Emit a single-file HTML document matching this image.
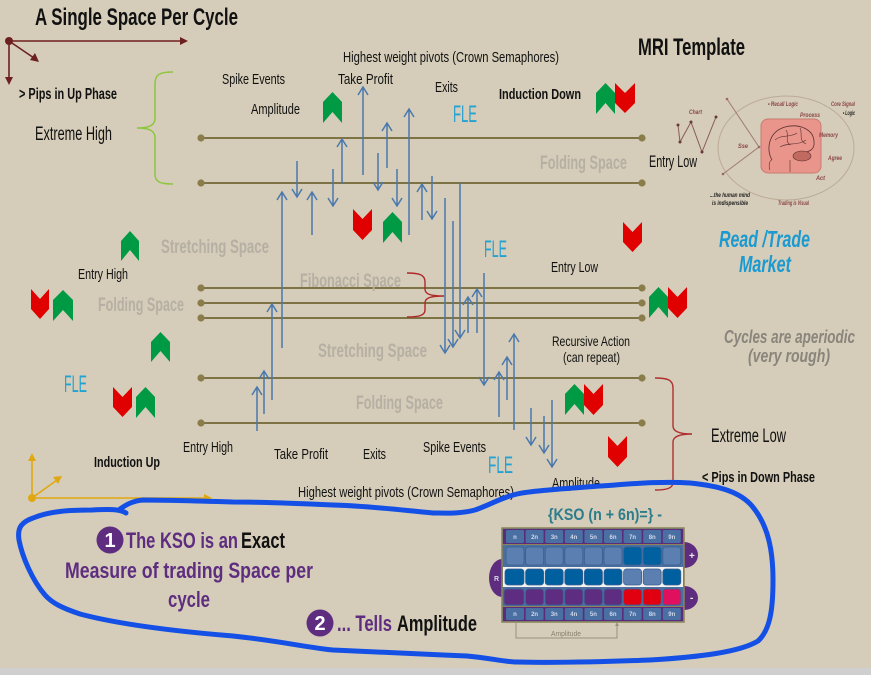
<!DOCTYPE html>
<html><head><meta charset="utf-8">
<style>
html,body{margin:0;padding:0;background:#d5cdb9;}
svg{display:block;}
text{font-family:"Liberation Sans Narrow","Liberation Sans",sans-serif;}
</style></head>
<body>
<svg width="871" height="675" viewBox="0 0 871 675" xmlns="http://www.w3.org/2000/svg">
<rect x="0" y="0" width="871" height="675" fill="#d5cdb9"/>
<rect x="0" y="668" width="871" height="7" fill="#cfcfcf"/>

<!-- Title & top-left axes -->
<text x="35" y="25" font-size="24" font-weight="bold" fill="#111" textLength="203" lengthAdjust="spacingAndGlyphs">A Single Space Per Cycle</text>
<g stroke="#6e2020" stroke-width="1.6" fill="#6e2020">
<line x1="9" y1="41" x2="181" y2="41"/>
<polygon points="188,41 180,37 180,45" stroke="none"/>
<line x1="9" y1="41" x2="34" y2="58"/>
<polygon points="39,62 30,60 35,53" stroke="none"/>
<line x1="9" y1="41" x2="9" y2="78"/>
<polygon points="9,85 5,77 13,77" stroke="none"/>
<circle cx="9" cy="41" r="4" stroke="none"/>
</g>
<text x="19" y="99" font-size="16" font-weight="bold" fill="#111" textLength="98" lengthAdjust="spacingAndGlyphs">&gt; Pips in Up Phase</text>
<text x="35" y="140" font-size="19" fill="#111" textLength="77" lengthAdjust="spacingAndGlyphs">Extreme High</text>

<!-- Green brace -->
<path d="M173 72 C160 72 155 74 155 84 L155 118 C155 125 150 128 137 128 C150 128 155 131 155 138 L155 174 C155 182 160 184 173 184" fill="none" stroke="#8cc63f" stroke-width="1.5"/>

<!-- Horizontal lines -->
<g stroke="#7e7345" stroke-width="2">
<line x1="201" y1="138" x2="642" y2="138"/>
<line x1="201" y1="183" x2="642" y2="183"/>
<line x1="201" y1="288" x2="642" y2="288"/>
<line x1="201" y1="303" x2="642" y2="303"/>
<line x1="201" y1="318" x2="642" y2="318"/>
<line x1="201" y1="378" x2="642" y2="378"/>
<line x1="201" y1="423" x2="642" y2="423"/>
</g>
<g fill="#8a7d4b">
<circle cx="201" cy="138" r="3.6"/><circle cx="642" cy="138" r="3.6"/>
<circle cx="201" cy="183" r="3.6"/><circle cx="642" cy="183" r="3.6"/>
<circle cx="201" cy="288" r="3.6"/><circle cx="642" cy="288" r="3.6"/>
<circle cx="201" cy="303" r="3.6"/><circle cx="642" cy="303" r="3.6"/>
<circle cx="201" cy="318" r="3.6"/><circle cx="642" cy="318" r="3.6"/>
<circle cx="201" cy="378" r="3.6"/><circle cx="642" cy="378" r="3.6"/>
<circle cx="201" cy="423" r="3.6"/><circle cx="642" cy="423" r="3.6"/>
</g>

<!-- Grey space labels -->
<g font-size="19" font-weight="bold" fill="#b6afa3">
<text x="540" y="169" textLength="87" lengthAdjust="spacingAndGlyphs">Folding Space</text>
<text x="161" y="253" textLength="108" lengthAdjust="spacingAndGlyphs">Stretching Space</text>
<text x="98" y="311" textLength="86" lengthAdjust="spacingAndGlyphs">Folding Space</text>
<text x="300" y="287" textLength="101" lengthAdjust="spacingAndGlyphs">Fibonacci Space</text>
<text x="318" y="357" textLength="109" lengthAdjust="spacingAndGlyphs">Stretching Space</text>
<text x="356" y="409" textLength="87" lengthAdjust="spacingAndGlyphs">Folding Space</text>
</g>

<!-- Red braces -->
<path d="M407 273 C420 273 425 275 425 282 L425 289 C425 294 430 296 444 296 C430 296 425 298 425 303 L425 310 C425 315 420 317 407 317" fill="none" stroke="#b02828" stroke-width="1.4"/>
<path d="M655 378 C668 378 673 380 673 388 L673 426 C673 431 678 434 692 434 C678 434 673 437 673 442 L673 482 C673 488 668 490 655 490" fill="none" stroke="#b03030" stroke-width="1.4"/>

<!-- Arrows -->
<g stroke="#4a78ad" stroke-width="1.5" fill="none">
<path d="M363 175V87M358 95L363 87L368 95"/>
<path d="M297 161V197M292 189L297 197L302 189"/>
<path d="M282 348V192M277 200L282 192L287 200"/>
<path d="M312 235V192M307 200L312 192L317 200"/>
<path d="M333 169V206M328 198L333 206L338 198"/>
<path d="M342 184V139M337 147L342 139L347 147"/>
<path d="M378 153V190M373 182L378 190L383 182"/>
<path d="M387 168V123M382 131L387 123L392 131"/>
<path d="M397 169V206M392 198L397 206L402 198"/>
<path d="M409 235V109M404 117L409 109L414 117"/>
<path d="M422 220V184M417 192L422 184L427 192"/>
<path d="M432 176V219M427 211L432 219L437 211"/>
<path d="M445 198V353M440 345L445 353L450 345"/>
<path d="M453 221V347M448 339L453 347L458 339"/>
<path d="M460 183V338M455 330L460 338L465 330"/>
<path d="M468 333V297M463 305L468 297L473 305"/>
<path d="M477 333V289M472 297L477 289L482 297"/>
<path d="M484 273V385M479 377L484 385L489 377"/>
<path d="M499 417V372M494 380L499 372L504 380"/>
<path d="M507 400V357M502 365L507 357L512 365"/>
<path d="M514 430V334M509 342L514 334L519 342"/>
<path d="M531 408V445M526 437L531 445L536 437"/>
<path d="M544 416V453M539 445L544 453L549 445"/>
<path d="M552 400V467M547 459L552 467L557 459"/>
<path d="M272 400V304M267 312L272 304L277 312"/>
<path d="M264 414V371M259 379L264 371L269 379"/>
<path d="M257 431V387M252 395L257 387L262 395"/>
</g>

<!-- Chevrons: green up -->
<g fill="#009a44">
<path d="M323 102L332.5 92L342 102L342 123L332.5 112L323 123Z"/>
<path d="M383 222L392.5 212L402 222L402 243L392.5 232L383 243Z"/>
<path d="M121 241L130 231L139 241L139 261L130 250L121 261Z"/>
<path d="M53 300L63 290L73 300L73 321L63 310L53 321Z"/>
<path d="M151 342L160.5 332L170 342L170 362L160.5 351L151 362Z"/>
<path d="M136 397L145.5 387L155 397L155 418L145.5 407L136 418Z"/>
<path d="M596 93L605.5 83L615 93L615 114L605.5 103L596 114Z"/>
<path d="M649 297L658.5 287L668 297L668 318L658.5 307L649 318Z"/>
<path d="M565 394L574.5 384L584 394L584 415L574.5 404L565 415Z"/>
</g>
<!-- Chevrons: red down -->
<g fill="#e00000">
<path d="M353 209L362.5 219L372 209L372 230L362.5 240L353 230Z"/>
<path d="M31 289L40 299L49 289L49 309L40 319L31 309Z"/>
<path d="M113 387L122.5 397L132 387L132 407L122.5 417L113 407Z"/>
<path d="M615 83L625 93L635 83L635 103L625 113L615 103Z"/>
<path d="M623 222L632.5 232L642 222L642 242L632.5 252L623 242Z"/>
<path d="M668 287L677.5 297L687 287L687 308L677.5 318L668 308Z"/>
<path d="M584 384L593.5 394L603 384L603 405L593.5 415L584 405Z"/>
<path d="M608 436L617.5 446L627 436L627 457L617.5 467L608 457Z"/>
</g>

<!-- Black labels -->
<g font-size="15" fill="#111">
<text x="222" y="84" textLength="63" lengthAdjust="spacingAndGlyphs">Spike Events</text>
<text x="251" y="114" textLength="49" lengthAdjust="spacingAndGlyphs">Amplitude</text>
<text x="338" y="84" textLength="55" lengthAdjust="spacingAndGlyphs">Take Profit</text>
<text x="343" y="62" textLength="216" lengthAdjust="spacingAndGlyphs">Highest weight pivots (Crown Semaphores)</text>
<text x="435" y="92" textLength="23" lengthAdjust="spacingAndGlyphs">Exits</text>
<text x="551" y="272" textLength="47" lengthAdjust="spacingAndGlyphs">Entry Low</text>
<text x="78" y="279" textLength="50" lengthAdjust="spacingAndGlyphs">Entry High</text>
<text x="552" y="346" font-size="14" textLength="78" lengthAdjust="spacingAndGlyphs">Recursive Action</text>
<text x="563" y="362" font-size="14" textLength="57" lengthAdjust="spacingAndGlyphs">(can repeat)</text>
<text x="183" y="452" textLength="50" lengthAdjust="spacingAndGlyphs">Entry High</text>
<text x="274" y="459" textLength="54" lengthAdjust="spacingAndGlyphs">Take Profit</text>
<text x="363" y="459" textLength="23" lengthAdjust="spacingAndGlyphs">Exits</text>
<text x="423" y="452" textLength="63" lengthAdjust="spacingAndGlyphs">Spike Events</text>
<text x="552" y="488" textLength="48" lengthAdjust="spacingAndGlyphs">Amplitude</text>
<text x="298" y="497" textLength="216" lengthAdjust="spacingAndGlyphs">Highest weight pivots (Crown Semaphores)</text>
</g>
<text x="649" y="167" font-size="17" fill="#111" textLength="48" lengthAdjust="spacingAndGlyphs">Entry Low</text>
<text x="711" y="442" font-size="19" fill="#111" textLength="75" lengthAdjust="spacingAndGlyphs">Extreme Low</text>
<text x="638" y="55" font-size="24" font-weight="bold" fill="#111" textLength="107" lengthAdjust="spacingAndGlyphs">MRI Template</text>
<text x="499" y="99" font-size="15" font-weight="bold" fill="#111" textLength="82" lengthAdjust="spacingAndGlyphs">Induction Down</text>
<text x="94" y="467" font-size="15" font-weight="bold" fill="#111" textLength="66" lengthAdjust="spacingAndGlyphs">Induction Up</text>
<text x="702" y="482" font-size="15" font-weight="bold" fill="#111" textLength="113" lengthAdjust="spacingAndGlyphs">&lt; Pips in Down Phase</text>

<!-- FLE labels -->
<g font-size="24" fill="#22a2d2">
<text x="453" y="122" textLength="24" lengthAdjust="spacingAndGlyphs">FLE</text>
<text x="484" y="257" textLength="23" lengthAdjust="spacingAndGlyphs">FLE</text>
<text x="64" y="392" textLength="23" lengthAdjust="spacingAndGlyphs">FLE</text>
<text x="488" y="473" textLength="25" lengthAdjust="spacingAndGlyphs">FLE</text>
</g>

<!-- Read/Trade & cycles -->
<text x="719" y="247" font-size="23" font-weight="bold" font-style="italic" fill="#1a9ad0" textLength="91" lengthAdjust="spacingAndGlyphs">Read /Trade</text>
<text x="739" y="272" font-size="23" font-weight="bold" font-style="italic" fill="#1a9ad0" textLength="52" lengthAdjust="spacingAndGlyphs">Market</text>
<text x="724" y="343" font-size="18" font-weight="bold" font-style="italic" fill="#8a857c" textLength="131" lengthAdjust="spacingAndGlyphs">Cycles are aperiodic</text>
<text x="748" y="362" font-size="18" font-weight="bold" font-style="italic" fill="#8a857c" textLength="82" lengthAdjust="spacingAndGlyphs">(very rough)</text>

<!-- MRI graphic -->
<ellipse cx="786" cy="148" rx="68" ry="52" fill="none" stroke="#bcaa96" stroke-width="1"/>
<polyline points="678,125 680,142 691,122 702,152 716,117" fill="none" stroke="#8a5a5a" stroke-width="1"/>
<g fill="#6a3a3a"><circle cx="678" cy="125" r="1.5"/><circle cx="680" cy="142" r="1.5"/><circle cx="691" cy="122" r="1.5"/><circle cx="702" cy="152" r="1.5"/><circle cx="716" cy="117" r="1.5"/></g>
<polyline points="727,99 759,147 723,174" fill="none" stroke="#a07a70" stroke-width="1"/>
<g fill="#9a6a60"><circle cx="727" cy="99" r="1.3"/><circle cx="759" cy="147" r="1.3"/><circle cx="723" cy="174" r="1.3"/></g>
<rect x="761" y="119" width="60" height="54" rx="7" fill="#e9958b" stroke="#c87a70" stroke-width="1"/>
<path d="M772 160 C766 150 768 132 785 127 C800 123 814 130 814 142 C815 150 808 153 800 152" fill="none" stroke="#5a3030" stroke-width="0.8"/>
<path d="M775 140 C782 134 790 138 797 133 M780 147 C788 142 798 146 806 140 M786 130 C790 136 784 140 790 145 M800 128 C803 134 798 140 806 144" fill="none" stroke="#5a3030" stroke-width="0.6"/>
<ellipse cx="802" cy="156" rx="9" ry="5" fill="#c06a60" stroke="#5a3030" stroke-width="0.6"/>
<path d="M790 172 L790 160 M770 170 C768 165 770 160 772 160" fill="none" stroke="#5a3030" stroke-width="0.6"/>
<g font-size="6" font-weight="bold" font-style="italic" fill="#8b4545">
<text x="689" y="114" textLength="13" lengthAdjust="spacingAndGlyphs">Chart</text>
<text x="738" y="148" textLength="10" lengthAdjust="spacingAndGlyphs">Sse</text>
<text x="768" y="106" textLength="30" lengthAdjust="spacingAndGlyphs">• Recall Logic</text>
<text x="800" y="117" textLength="20" lengthAdjust="spacingAndGlyphs">Process</text>
<text x="831" y="106" textLength="24" lengthAdjust="spacingAndGlyphs">Core Signal</text>
<text x="819" y="137" textLength="19" lengthAdjust="spacingAndGlyphs">Memory</text>
<text x="828" y="160" textLength="14" lengthAdjust="spacingAndGlyphs">Agree</text>
<text x="816" y="180" textLength="9" lengthAdjust="spacingAndGlyphs">Act</text>
<text x="778" y="205" textLength="31" lengthAdjust="spacingAndGlyphs">Trading is Visual</text>
</g>
<g font-size="6" font-weight="bold" font-style="italic" fill="#222">
<text x="843" y="115" textLength="12" lengthAdjust="spacingAndGlyphs">• Logic</text>
<text x="710" y="197" textLength="40" lengthAdjust="spacingAndGlyphs">...the human mind</text>
<text x="712" y="205" textLength="36" lengthAdjust="spacingAndGlyphs">is indispensible</text>
</g>

<!-- Gold axes bottom-left -->
<g stroke="#e0a810" stroke-width="1.6" fill="#e0a810">
<line x1="32" y1="498" x2="205" y2="498"/>
<polygon points="212,498 204,494 204,502" stroke="none"/>
<line x1="32" y1="498" x2="57" y2="480"/>
<polygon points="62,476 53,477 58,484" stroke="none"/>
<line x1="32" y1="498" x2="32" y2="460"/>
<polygon points="32,453 28,461 36,461" stroke="none"/>
<circle cx="32" cy="498" r="4" stroke="none"/>
</g>

<!-- KSO texts -->
<circle cx="110" cy="540" r="13.5" fill="#5e2d80"/>
<text x="110" y="547" font-size="20" font-weight="bold" fill="#fff" text-anchor="middle">1</text>
<text x="126" y="548" font-size="22" font-weight="bold" fill="#5e2d80" textLength="112" lengthAdjust="spacingAndGlyphs">The KSO is an</text>
<text x="241" y="548" font-size="22" font-weight="bold" fill="#111" textLength="44" lengthAdjust="spacingAndGlyphs">Exact</text>
<text x="65" y="578" font-size="22" font-weight="bold" fill="#5e2d80" textLength="248" lengthAdjust="spacingAndGlyphs">Measure of  trading Space per</text>
<text x="168" y="607" font-size="22" font-weight="bold" fill="#5e2d80" textLength="42" lengthAdjust="spacingAndGlyphs">cycle</text>
<circle cx="320" cy="623" r="13.5" fill="#5e2d80"/>
<text x="320" y="630" font-size="20" font-weight="bold" fill="#fff" text-anchor="middle">2</text>
<text x="337" y="631" font-size="22" font-weight="bold" fill="#5e2d80" textLength="55" lengthAdjust="spacingAndGlyphs">... Tells</text>
<text x="397" y="631" font-size="22" font-weight="bold" fill="#111" textLength="80" lengthAdjust="spacingAndGlyphs">Amplitude</text>

<!-- KSO widget -->
<text x="548" y="520" font-size="17" font-weight="bold" fill="#2d7c8c" textLength="114" lengthAdjust="spacingAndGlyphs">{KSO (n + 6n)=} -</text>
<ellipse cx="502" cy="578" rx="13" ry="19" fill="#5e2d80"/>
<text x="494" y="581" font-size="7" font-weight="bold" fill="#d8d8e8">R</text>
<ellipse cx="684" cy="555" rx="14" ry="13" fill="#5e2d80"/>
<text x="689" y="559" font-size="10" font-weight="bold" fill="#eee">+</text>
<ellipse cx="684" cy="598" rx="14" ry="12" fill="#5e2d80"/>
<text x="690" y="601" font-size="10" font-weight="bold" fill="#eee">-</text>
<rect x="502" y="528" width="182" height="94" fill="#4a6fa0" stroke="#8c8358" stroke-width="1.5"/>
<rect x="503" y="529" width="180" height="15" fill="#5c2c7c"/>
<rect x="503" y="607" width="180" height="14" fill="#5c2c7c"/>
<rect x="503" y="567" width="180" height="20" fill="#f2f2f2"/>
<g stroke="#8c8358" stroke-width="1">
<line x1="502" y1="544.5" x2="684" y2="544.5"/>
<line x1="502" y1="606.5" x2="684" y2="606.5"/>
</g>
<g fill="#4a6fa3">
<rect x="506" y="530" width="18" height="13" rx="1.5"/><rect x="525.6" y="530" width="18" height="13" rx="1.5"/><rect x="545.2" y="530" width="18" height="13" rx="1.5"/><rect x="564.8" y="530" width="18" height="13" rx="1.5"/><rect x="584.4" y="530" width="18" height="13" rx="1.5"/><rect x="604" y="530" width="18" height="13" rx="1.5"/><rect x="623.6" y="530" width="18" height="13" rx="1.5"/><rect x="643.2" y="530" width="18" height="13" rx="1.5"/><rect x="662.8" y="530" width="18" height="13" rx="1.5"/>
<rect x="506" y="608" width="18" height="12" rx="1.5"/><rect x="525.6" y="608" width="18" height="12" rx="1.5"/><rect x="545.2" y="608" width="18" height="12" rx="1.5"/><rect x="564.8" y="608" width="18" height="12" rx="1.5"/><rect x="584.4" y="608" width="18" height="12" rx="1.5"/><rect x="604" y="608" width="18" height="12" rx="1.5"/><rect x="623.6" y="608" width="18" height="12" rx="1.5"/><rect x="643.2" y="608" width="18" height="12" rx="1.5"/><rect x="662.8" y="608" width="18" height="12" rx="1.5"/>
</g>
<g font-size="6" font-weight="bold" fill="#d0d8e8" text-anchor="middle">
<text x="515" y="539">n</text><text x="534.6" y="539">2n</text><text x="554.2" y="539">3n</text><text x="573.8" y="539">4n</text><text x="593.4" y="539">5n</text><text x="613" y="539">6n</text><text x="632.6" y="539">7n</text><text x="652.2" y="539">8n</text><text x="671.8" y="539">9n</text>
<text x="515" y="616">n</text><text x="534.6" y="616">2n</text><text x="554.2" y="616">3n</text><text x="573.8" y="616">4n</text><text x="593.4" y="616">5n</text><text x="613" y="616">6n</text><text x="632.6" y="616">7n</text><text x="652.2" y="616">8n</text><text x="671.8" y="616">9n</text>
</g>
<!-- row 2 -->
<g stroke="#3d5f90" stroke-width="0.8">
<rect x="506" y="547" width="18" height="18" rx="3" fill="#5a7fb0"/><rect x="525.6" y="547" width="18" height="18" rx="3" fill="#5a7fb0"/><rect x="545.2" y="547" width="18" height="18" rx="3" fill="#5a7fb0"/><rect x="564.8" y="547" width="18" height="18" rx="3" fill="#5a7fb0"/><rect x="584.4" y="547" width="18" height="18" rx="3" fill="#5a7fb0"/><rect x="604" y="547" width="18" height="18" rx="3" fill="#5a7fb0"/><rect x="623.6" y="547" width="18" height="18" rx="3" fill="#0060a0"/><rect x="643.2" y="547" width="18" height="18" rx="3" fill="#0060a0"/><rect x="662.8" y="547" width="18" height="18" rx="3" fill="#5a7fb0"/>
</g>
<!-- row 3 -->
<g stroke="#3d5f90" stroke-width="0.8">
<rect x="505" y="569" width="19" height="16" rx="3" fill="#005f9f"/><rect x="525.6" y="569" width="18" height="16" rx="3" fill="#005f9f"/><rect x="545.2" y="569" width="18" height="16" rx="3" fill="#005f9f"/><rect x="564.8" y="569" width="18" height="16" rx="3" fill="#005f9f"/><rect x="584.4" y="569" width="18" height="16" rx="3" fill="#005f9f"/><rect x="604" y="569" width="18" height="16" rx="3" fill="#005f9f"/><rect x="623.6" y="569" width="18" height="16" rx="3" fill="#5a7fb0"/><rect x="643.2" y="569" width="18" height="16" rx="3" fill="#5a7fb0"/><rect x="662.8" y="569" width="18" height="16" rx="3" fill="#005f9f"/>
</g>
<!-- row 4 -->
<g stroke="#3d5f90" stroke-width="0.8">
<rect x="504" y="589" width="20" height="16" rx="3" fill="#5e2d82"/><rect x="525.6" y="589" width="18" height="16" rx="3" fill="#5e2d82"/><rect x="545.2" y="589" width="18" height="16" rx="3" fill="#5e2d82"/><rect x="564.8" y="589" width="18" height="16" rx="3" fill="#5e2d82"/><rect x="584.4" y="589" width="18" height="16" rx="3" fill="#5e2d82"/><rect x="604" y="589" width="18" height="16" rx="3" fill="#5e2d82"/><rect x="623.6" y="589" width="18" height="16" rx="3" fill="#e00010"/><rect x="643.2" y="589" width="18" height="16" rx="3" fill="#e00010"/><rect x="662.8" y="589" width="18" height="16" rx="3" fill="#e0105e"/>
</g>
<!-- amplitude bracket -->
<polyline points="516,623 516,638 617,638 617,625" fill="none" stroke="#9a9080" stroke-width="1"/>
<polygon points="617,622 615,626 619,626" fill="#9a9080"/>
<text x="566" y="636" font-size="7" fill="#8a7f6c" text-anchor="middle" textLength="30" lengthAdjust="spacingAndGlyphs">Amplitude</text>

<!-- Blue freehand loop -->
<path d="M126 513 C120 509 108 509 92 510 C70 510 50 511 33 518 C22 522 17 527 19 540 C22 556 32 580 45 595 C52 603 62 608 80 614 C110 622 160 630 233 636 C280 641 310 648 333 650 C370 652 420 654 467 656 C490 658 505 662 517 662 C560 663 600 662 650 660 C700 657 740 652 758 641 C770 630 773 610 773 580 C773 550 768 525 752 506 C740 492 720 486 690 483 C660 481 630 484 600 486 C560 489 530 491 517 494 C500 498 490 505 475 510 C460 514 445 513 433 513 C400 510 370 506 333 505 C290 503 260 502 233 502 C200 501 165 500 143 500 C133 501 127 504 120 509" fill="none" stroke="#1450e6" stroke-width="5" stroke-linecap="round" stroke-linejoin="round"/>
</svg>
</body></html>
